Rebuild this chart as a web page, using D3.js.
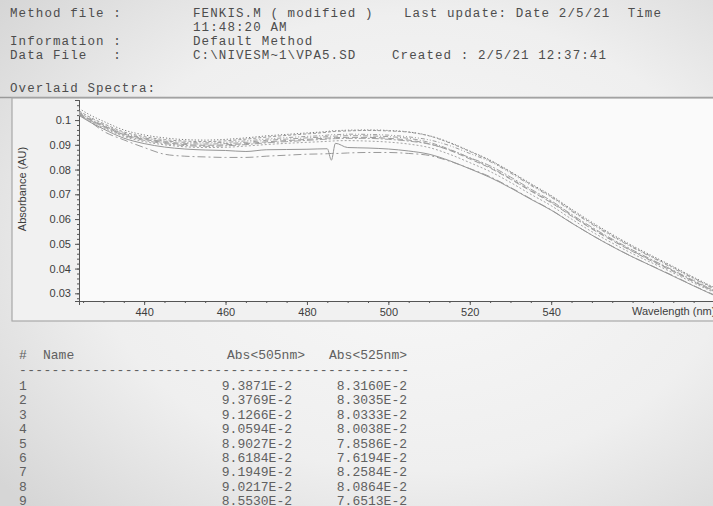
<!DOCTYPE html>
<html>
<head>
<meta charset="utf-8">
<script src="https://cdn.jsdelivr.net/npm/d3@7"></script>
<style>
  html, body { margin: 0; padding: 0; background: #e4e4e4; }
  svg { display: block; }
  .mono { font-family: "Liberation Mono", "DejaVu Sans Mono", monospace; }
  .sans { font-family: "Liberation Sans", Arial, sans-serif; }
</style>
</head>
<body>
<svg id="chart" width="713" height="506"></svg>
<script>
// ---------------- DATA ----------------
const wavelengths = [424, 427, 430, 435, 440, 445, 450, 455, 460, 465, 470, 475, 480, 485, 486, 487, 490, 495, 500, 505, 510, 515, 520, 525, 530, 535, 540, 545, 550, 555, 560, 565, 570, 575, 580];

// absorbance ×1e-4
const spectrum1 = [1047, 1018, 995, 960, 940, 928, 921, 919, 922, 928, 936, 942, 948, 954, 956, 957, 959, 960, 958, 952, 937, 910, 875, 838, 792, 743, 695, 640, 587, 538, 492, 450, 408, 365, 324];
const spectrum2 = [1037, 1009, 986, 952, 933, 921, 915, 913, 916, 923, 931, 938, 944, 951, 953, 954, 956, 958, 956, 951, 936, 908, 873, 836, 790, 740, 692, 636, 583, 534, 488, 446, 405, 362, 321];
const spectrum3 = [1029, 1001, 978, 944, 925, 913, 905, 903, 905, 910, 918, 923, 928, 933, 935, 935, 937, 936, 933, 926, 910, 882, 847, 809, 764, 716, 669, 615, 563, 516, 471, 431, 391, 349, 310];
const spectrum4 = [1027, 998, 976, 941, 922, 909, 901, 898, 900, 905, 912, 917, 922, 927, 928, 929, 930, 930, 926, 919, 904, 878, 843, 806, 761, 713, 666, 612, 560, 513, 469, 428, 388, 347, 308];
const spectrum5 = [1022, 993, 969, 934, 913, 900, 892, 889, 890, 895, 901, 906, 910, 914, 915, 916, 917, 915, 911, 903, 889, 862, 828, 792, 748, 700, 654, 600, 549, 503, 460, 421, 382, 342, 304];
const spectrum6 = [1019, 989, 964, 927, 905, 891, 883, 879, 877, 873, 880, 881, 882, 884, 838, 906, 889, 887, 883, 875, 862, 836, 803, 768, 726, 680, 636, 584, 535, 489, 447, 408, 369, 330, 292];
const spectrum7 = [1032, 1004, 981, 947, 928, 916, 910, 908, 910, 916, 923, 929, 934, 939, 941, 941, 943, 942, 939, 932, 920, 897, 865, 832, 786, 736, 688, 632, 579, 530, 485, 443, 401, 359, 318];
const spectrum8 = [1025, 996, 973, 938, 918, 905, 897, 894, 896, 901, 908, 913, 918, 923, 924, 925, 926, 926, 922, 915, 903, 880, 848, 815, 770, 721, 674, 619, 567, 519, 475, 434, 393, 352, 312];
const spectrum9 = [1022, 990, 955, 920, 889, 862, 854, 851, 849, 849, 854, 858, 862, 864, 865, 865, 867, 869, 869, 865, 857, 834, 804, 771, 728, 682, 637, 585, 535, 490, 447, 409, 371, 331, 294];
const spectra = [spectrum1, spectrum2, spectrum3, spectrum4, spectrum5, spectrum6, spectrum7, spectrum8, spectrum9];

const yTicks = [0.03, 0.04, 0.05, 0.06, 0.07, 0.08, 0.09, 0.1];
const yTickLabels = ["0.03", "0.04", "0.05", "0.06", "0.07", "0.08", "0.09", "0.1"];
const xTicks = [440, 460, 480, 500, 520, 540];

const rowIds = ["1", "2", "3", "4", "5", "6", "7", "8", "9"];
const abs505 = ["9.3871E-2", "9.3769E-2", "9.1266E-2", "9.0594E-2", "8.9027E-2", "8.6184E-2", "9.1949E-2", "9.0217E-2", "8.5530E-2"];
const abs525 = ["8.3160E-2", "8.3035E-2", "8.0333E-2", "8.0038E-2", "7.8586E-2", "7.6194E-2", "8.2584E-2", "8.0864E-2", "7.6513E-2"];

// ---------------- DRAWING ----------------
const svg = d3.select("#chart");
const W = 713, H = 506;

// photographed-paper background
const defs = svg.append("defs");
const grad = defs.append("radialGradient").attr("id", "paper")
  .attr("cx", "58%").attr("cy", "48%").attr("r", "75%");
grad.append("stop").attr("offset", "0%").attr("stop-color", "#f8f8f8");
grad.append("stop").attr("offset", "60%").attr("stop-color", "#efefef");
grad.append("stop").attr("offset", "100%").attr("stop-color", "#d6d6d6");
svg.append("rect").attr("width", W).attr("height", H).attr("fill", "url(#paper)");

// header text
const txtCol = "#4d4d4d";
const header = [
  [10, 17, "Method file :"], [193, 17, "FENKIS.M ( modified )"], [404, 17, "Last update: Date 2/5/21  Time"],
  [193, 31, "11:48:20 AM"],
  [10, 45, "Information :"], [193, 45, "Default Method"],
  [10, 59, "Data File   :"], [193, 59, "C:\\NIVESM~1\\VPA5.SD"], [392, 59, "Created : 2/5/21 12:37:41"],
  [10, 92, "Overlaid Spectra:"]
];
svg.append("g").selectAll("text").data(header).join("text")
  .attr("class", "mono").attr("x", d => d[0]).attr("y", d => d[1])
  .attr("font-size", 12.5).attr("letter-spacing", 1.1).attr("fill", txtCol)
  .style("white-space", "pre").text(d => d[2]);

// chart frame
svg.append("line").attr("x1", 0).attr("x2", W).attr("y1", 97.5).attr("y2", 97.5)
  .attr("stroke", "#9a9a9a").attr("stroke-width", 1.5);
svg.append("rect").attr("x", 12).attr("y", 98).attr("width", W).attr("height", 223)
  .attr("fill", "#f1f1f1").attr("stroke", "#a8a8a8").attr("stroke-width", 1.2);
svg.append("rect").attr("x", 79).attr("y", 99).attr("width", W - 79).attr("height", 202)
  .attr("fill", "#fafafa");

const x = d3.scaleLinear().domain([424, 580]).range([79, 714]);
const y = d3.scaleLinear().domain([0.0269, 0.1081]).range([301, 100]);

defs.append("clipPath").attr("id", "plotclip").append("rect")
  .attr("x", 79).attr("y", 99).attr("width", W - 79).attr("height", 202);

// axes
const axCol = "#555";
const yAxis = svg.append("g").attr("transform", "translate(79,0)")
  .call(d3.axisLeft(y).tickValues(yTicks).tickFormat((d, i) => yTickLabels[i]).tickSize(4).tickPadding(4));
const yMinor = svg.append("g").attr("transform", "translate(79,0)")
  .call(d3.axisLeft(y).tickValues(d3.range(28, 108, 2).map(v => v / 1000)).tickFormat("").tickSize(2));
const xAxis = svg.append("g").attr("transform", "translate(0,301)")
  .call(d3.axisBottom(x).tickValues(xTicks).tickFormat(d3.format("d")).tickSize(4).tickPadding(3));
const xMinor = svg.append("g").attr("transform", "translate(0,301)")
  .call(d3.axisBottom(x).tickValues(d3.range(425, 581, 5)).tickFormat("").tickSize(2));
[yAxis, yMinor, xAxis, xMinor].forEach(g => {
  g.selectAll("path").attr("stroke", axCol).attr("stroke-width", 1);
  g.selectAll("line").attr("stroke", axCol);
  g.selectAll("text").attr("class", "sans").attr("font-size", 11).attr("fill", "#3d3d3d");
});

svg.append("text").attr("class", "sans").attr("font-size", 11).attr("fill", "#3d3d3d")
  .attr("x", 632).attr("y", 315).text("Wavelength (nm)");
svg.append("text").attr("class", "sans").attr("font-size", 11).attr("fill", "#3d3d3d")
  .attr("transform", "translate(26,189) rotate(-90)").attr("text-anchor", "middle")
  .text("Absorbance (AU)");

// spectra
const dashes = ["1.2,2", "3,2", "5,2,1,2", "6,3", "2,2", "none", "4,2,1,2,1,2", "7,2,2,2", "8,3,2,3"];
const colors = ["#7a7a7a", "#9a9a9a", "#a0a0a0", "#9c9c9c", "#a4a4a4", "#969696", "#9e9e9e", "#a2a2a2", "#9a9a9a"];
const line = d3.line().x(d => x(d[0])).y(d => y(d[1] / 10000)).curve(d3.curveMonotoneX);
svg.append("g").attr("clip-path", "url(#plotclip)").selectAll("path")
  .data(spectra).join("path")
  .attr("d", s => line(wavelengths.map((w, i) => [w, s[i]])))
  .attr("fill", "none")
  .attr("stroke", (d, i) => colors[i])
  .attr("stroke-width", 1)
  .attr("stroke-dasharray", (d, i) => dashes[i]);

// results table
const tbl = svg.append("g").attr("class", "mono").attr("font-size", 13).attr("fill", "#606060");
tbl.append("text").attr("x", 19).attr("y", 359).text("#");
tbl.append("text").attr("x", 43).attr("y", 359).text("Name");
tbl.append("text").attr("x", 305).attr("y", 359).attr("text-anchor", "end").text("Abs<505nm>");
tbl.append("text").attr("x", 407).attr("y", 359).attr("text-anchor", "end").text("Abs<525nm>");
tbl.append("text").attr("x", 19).attr("y", 374).attr("textLength", 390).text("-".repeat(48));
const rowY = d3.scaleLinear().domain([0, 8]).range([390, 505]);
tbl.selectAll("text.id").data(rowIds).join("text").attr("class", "id")
  .attr("x", 19).attr("y", (d, i) => rowY(i)).text(d => d);
tbl.selectAll("text.a5").data(abs505).join("text").attr("class", "a5")
  .attr("x", 292).attr("y", (d, i) => rowY(i)).attr("text-anchor", "end").text(d => d);
tbl.selectAll("text.a25").data(abs525).join("text").attr("class", "a25")
  .attr("x", 407).attr("y", (d, i) => rowY(i)).attr("text-anchor", "end").text(d => d);
</script>
</body>
</html>
